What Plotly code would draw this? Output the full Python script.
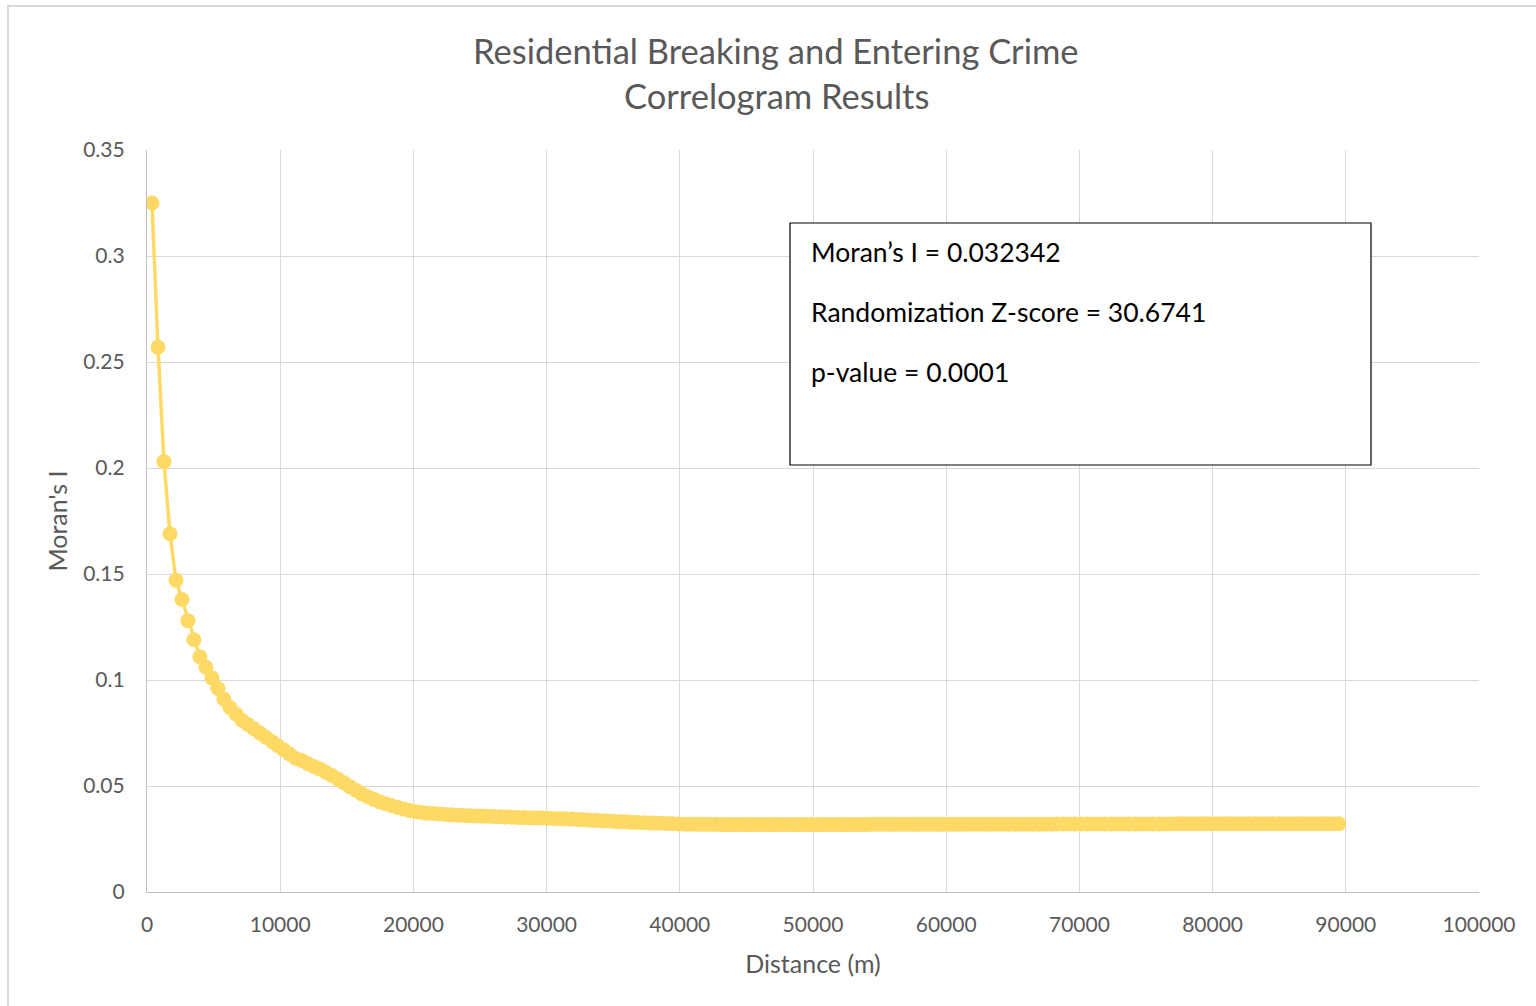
import plotly.graph_objects as go

title_lines = ["Residential Breaking and Entering Crime", "Correlogram Results"]
x_title = "Distance (m)"
y_title = "Moran's I"
stats_lines = ["Moran’s I = 0.032342", "Randomization Z-score = 30.6741", "p-value = 0.0001"]

distance = [
    375, 825, 1275, 1725, 2175, 2625, 3075, 3525, 3975, 4425,
    4875, 5325, 5775, 6225, 6675, 7125, 7575, 8025, 8475, 8925,
    9375, 9825, 10275, 10725, 11175, 11625, 12075, 12525, 12975, 13425,
    13875, 14325, 14775, 15225, 15675, 16125, 16575, 17025, 17475, 17925,
    18375, 18825, 19275, 19725, 20175, 20625, 21075, 21525, 21975, 22425,
    22875, 23325, 23775, 24225, 24675, 25125, 25575, 26025, 26475, 26925,
    27375, 27825, 28275, 28725, 29175, 29625, 30075, 30525, 30975, 31425,
    31875, 32325, 32775, 33225, 33675, 34125, 34575, 35025, 35475, 35925,
    36375, 36825, 37275, 37725, 38175, 38625, 39075, 39525, 39975, 40425,
    40875, 41325, 41775, 42225, 42675, 43125, 43575, 44025, 44475, 44925,
    45375, 45825, 46275, 46725, 47175, 47625, 48075, 48525, 48975, 49425,
    49875, 50325, 50775, 51225, 51675, 52125, 52575, 53025, 53475, 53925,
    54375, 54825, 55275, 55725, 56175, 56625, 57075, 57525, 57975, 58425,
    58875, 59325, 59775, 60225, 60675, 61125, 61575, 62025, 62475, 62925,
    63375, 63825, 64275, 64725, 65175, 65625, 66075, 66525, 66975, 67425,
    67875, 68325, 68775, 69225, 69675, 70125, 70575, 71025, 71475, 71925,
    72375, 72825, 73275, 73725, 74175, 74625, 75075, 75525, 75975, 76425,
    76875, 77325, 77775, 78225, 78675, 79125, 79575, 80025, 80475, 80925,
    81375, 81825, 82275, 82725, 83175, 83625, 84075, 84525, 84975, 85425,
    85875, 86325, 86775, 87225, 87675, 88125, 88575, 89025, 89475,
]

morans_i = [
    0.325, 0.257, 0.203, 0.169, 0.147, 0.138, 0.128, 0.119, 0.111, 0.106,
    0.101, 0.096, 0.091, 0.087, 0.084, 0.081, 0.079, 0.077, 0.075, 0.073,
    0.071, 0.069, 0.067, 0.065, 0.063, 0.062, 0.0605, 0.0592, 0.058, 0.0565,
    0.0550, 0.0533, 0.0515, 0.0497, 0.0480, 0.0463, 0.0449, 0.0437, 0.0426, 0.0416,
    0.0407, 0.0399, 0.0391, 0.0385, 0.0379, 0.0375, 0.0372, 0.0370, 0.0368, 0.0366,
    0.0364, 0.0362, 0.0361, 0.0360, 0.0359, 0.0358, 0.0357, 0.0356, 0.0355, 0.0354,
    0.0353, 0.0352, 0.0351, 0.0350, 0.0349, 0.0349, 0.0348, 0.0347, 0.0346, 0.0345,
    0.0344, 0.0342, 0.0341, 0.0339, 0.0338, 0.0336, 0.0335, 0.0333, 0.0332, 0.0331,
    0.0329, 0.0328, 0.0327, 0.0326, 0.0325, 0.0324, 0.0323, 0.0322, 0.0321, 0.0320,
    0.0320, 0.0319, 0.0319, 0.0319, 0.0319, 0.0318, 0.0318, 0.0318, 0.0318, 0.0318,
    0.0318, 0.0318, 0.0318, 0.0318, 0.0318, 0.0318, 0.0318, 0.0318, 0.0318, 0.0318,
    0.0318, 0.0318, 0.0318, 0.0318, 0.0318, 0.0318, 0.0318, 0.0318, 0.0318, 0.0318,
    0.0319, 0.0319, 0.0319, 0.0319, 0.0319, 0.0319, 0.0319, 0.0319, 0.0319, 0.0319,
    0.0319, 0.0319, 0.0319, 0.0319, 0.0319, 0.0320, 0.0320, 0.0320, 0.0320, 0.0320,
    0.0320, 0.0320, 0.0320, 0.0320, 0.0320, 0.0320, 0.0320, 0.0320, 0.0320, 0.0320,
    0.0320, 0.0321, 0.0321, 0.0321, 0.0321, 0.0321, 0.0321, 0.0321, 0.0321, 0.0321,
    0.0321, 0.0321, 0.0321, 0.0321, 0.0321, 0.0321, 0.0321, 0.0321, 0.0321, 0.0321,
    0.0321, 0.0322, 0.0322, 0.0322, 0.0322, 0.0322, 0.0322, 0.0322, 0.0322, 0.0322,
    0.0322, 0.0322, 0.0322, 0.0322, 0.0322, 0.0322, 0.0322, 0.0322, 0.0322, 0.0322,
    0.0322, 0.0322, 0.0322, 0.0322, 0.0322, 0.0322, 0.0322, 0.0322, 0.0322,
]

x_ticks = [0, 10000, 20000, 30000, 40000, 50000, 60000, 70000, 80000, 90000, 100000]
y_ticks = [0, 0.05, 0.1, 0.15, 0.2, 0.25, 0.3, 0.35]
y_tick_text = ["0", "0.05", "0.1", "0.15", "0.2", "0.25", "0.3", "0.35"]

FONT = "Lato, 'Open Sans', sans-serif"
GOLD = "#FFD966"
GREY_TXT = "#595959"
GRID = "#d9d9d9"

fig = go.Figure()
fig.add_trace(go.Scatter(
    x=distance, y=morans_i, mode="lines+markers",
    line=dict(color=GOLD, width=3.5),
    marker=dict(color=GOLD, size=15, line=dict(width=0)),
    showlegend=False, hoverinfo="x+y",
))

W, H = 1536, 1006
L, R, T, B = 147, 57, 150, 114
pw, ph = W - L - R, H - T - B

def px_x(p):
    return (p - L) / pw

def px_y(p):
    return (H - B - p) / ph

annotations = []
annotations.append(dict(text=title_lines[0], xref="paper", yref="paper", x=px_x(776), y=px_y(51),
                        xanchor="center", yanchor="middle", showarrow=False,
                        font=dict(family=FONT, size=34.5, color=GREY_TXT)))
annotations.append(dict(text=title_lines[1], xref="paper", yref="paper", x=px_x(776), y=px_y(96),
                        xanchor="center", yanchor="middle", showarrow=False,
                        font=dict(family=FONT, size=34.5, color=GREY_TXT)))
for line, py in zip(stats_lines, [252, 312, 372]):
    annotations.append(dict(text=line, xref="paper", yref="paper", x=px_x(809), y=px_y(py),
                            xanchor="left", yanchor="middle", showarrow=False,
                            font=dict(family=FONT, size=26.5, color="#000000")))

shapes = [
    dict(type="rect", xref="paper", yref="paper", x0=px_x(790), x1=px_x(1371),
         y0=px_y(465), y1=px_y(223), line=dict(color="#000000", width=1.2),
         fillcolor="white", layer="above"),
    dict(type="rect", xref="paper", yref="paper", x0=px_x(8), x1=px_x(1545),
         y0=px_y(1015), y1=px_y(6), line=dict(color=GRID, width=2),
         fillcolor="rgba(0,0,0,0)", layer="below"),
]

fig.update_layout(
    width=W, height=H,
    margin=dict(l=L, r=R, t=T, b=B, pad=0),
    paper_bgcolor="white", plot_bgcolor="white",
    font=dict(family=FONT, color=GREY_TXT),
    annotations=annotations, shapes=shapes,
    xaxis=dict(
        range=[0, 100000], tickvals=x_ticks, ticktext=[str(v) for v in x_ticks],
        showgrid=True, gridcolor=GRID, gridwidth=1.3, zeroline=False,
        showline=True, linecolor="#bfbfbf", linewidth=1.3,
        ticks="", ticklabelstandoff=14,
        tickfont=dict(family=FONT, size=21, color=GREY_TXT),
        title=dict(text=x_title, font=dict(family=FONT, size=25, color=GREY_TXT), standoff=20),
    ),
    yaxis=dict(
        range=[0, 0.35], tickvals=y_ticks, ticktext=y_tick_text,
        showgrid=True, gridcolor=GRID, gridwidth=1.3, zeroline=False,
        showline=True, linecolor="#bfbfbf", linewidth=1.3,
        ticks="", ticklabelstandoff=17,
        tickfont=dict(family=FONT, size=21, color=GREY_TXT),
        title=dict(text=y_title, font=dict(family=FONT, size=25, color=GREY_TXT), standoff=8),
    ),
)

fig.write_html("out.html")
